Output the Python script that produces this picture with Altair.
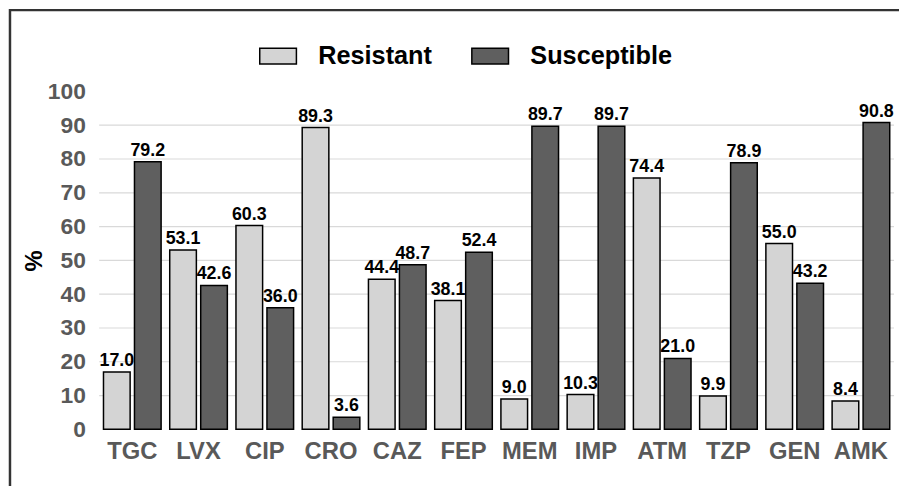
import altair as alt
import pandas as pd

drugs = ["TGC", "LVX", "CIP", "CRO", "CAZ", "FEP", "MEM", "IMP", "ATM", "TZP", "GEN", "AMK"]
resistant = [17.0, 53.1, 60.3, 89.3, 44.4, 38.1, 9.0, 10.3, 74.4, 9.9, 55.0, 8.4]
susceptible = [79.2, 42.6, 36.0, 3.6, 48.7, 52.4, 89.7, 89.7, 21.0, 78.9, 43.2, 90.8]
series = ["Resistant", "Susceptible"]
colors = ["#d4d4d4", "#5f5f5f"]
y_ticks = [0, 10, 20, 30, 40, 50, 60, 70, 80, 90, 100]
grid_vals = [10, 20, 30, 40, 50, 60, 70, 80, 90]

rows = []
for d, r, s in zip(drugs, resistant, susceptible):
    rows.append({"drug": d, "status": series[0], "value": r})
    rows.append({"drug": d, "status": series[1], "value": s})
df = pd.DataFrame(rows)

FONT = "Liberation Sans"
W, H = 802, 341

yscale = alt.Scale(domain=[0, 100], nice=False)
yaxis = alt.Axis(values=y_ticks, grid=False, ticks=False, domain=False,
                 labelOverlap=False, labelFlush=False,
                 labelFontSize=23, labelFont=FONT, labelFontWeight="bold",
                 labelColor="#595959", labelPadding=14,
                 title="%", titleFontSize=24, titleFont=FONT, titleFontWeight="bold",
                 titleColor="black", titleX=-65, titleY=H / 2, titleAngle=-90,
                 titleAlign="center", titleBaseline="middle")

xscale = alt.Scale(paddingInner=0.13, paddingOuter=0.065)
xaxis = alt.Axis(labelFontSize=24, labelFont=FONT, labelFontWeight="bold",
                 labelColor="#595959", labelAngle=0, labelPadding=10,
                 labelOverlap=False, ticks=False, domain=False, grid=False)
x = alt.X("drug:N", sort=drugs, title=None, scale=xscale, axis=xaxis)
xo = alt.XOffset("status:N", sort=series, scale=alt.Scale(paddingInner=0.14))
yenc = alt.Y("value:Q", scale=yscale, axis=yaxis)

grid = alt.Chart(pd.DataFrame({"value": grid_vals})).mark_rule(color="#d9d9d9", strokeWidth=1.2).encode(
    y=yenc
)

bars = alt.Chart(df).mark_bar(stroke="black", strokeWidth=1.5).encode(
    x=x, xOffset=xo, y=yenc,
    fill=alt.Fill("status:N", sort=series, scale=alt.Scale(domain=series, range=colors),
                  legend=alt.Legend(title=None, orient="none", legendX=161, legendY=-55,
                                    direction="horizontal", labelFontSize=25.5, labelFont=FONT,
                                    labelFontWeight="bold", labelColor="black",
                                    symbolType="M-1,-0.43H1V0.43H-1Z", symbolSize=1369,
                                    symbolStrokeColor="black", symbolStrokeWidth=1.5,
                                    labelOffset=21, columnPadding=37)),
)

labels = alt.Chart(df).mark_text(font=FONT, fontWeight="bold", fontSize=18, color="black",
                                 baseline="bottom", dy=-2).encode(
    x=x, xOffset=xo, y=yenc, text=alt.Text("value:Q", format=".1f")
)

frame = alt.Chart(pd.DataFrame({"a": [0]})).mark_rect(filled=False, stroke="#333333", strokeWidth=2.5).encode(
    x=alt.value(-90), x2=alt.value(812), y=alt.value(-82), y2=alt.value(430)
)

chart = alt.layer(grid, bars, labels, frame).properties(
    width=W, height=H,
    autosize=alt.AutoSizeParams(type="none"),
    padding={"left": 92, "top": 82, "right": 5, "bottom": 55},
).configure(background="white").configure_view(stroke="transparent", strokeWidth=0)

chart.save("out.html", embed_options={"renderer": "svg", "actions": False})
